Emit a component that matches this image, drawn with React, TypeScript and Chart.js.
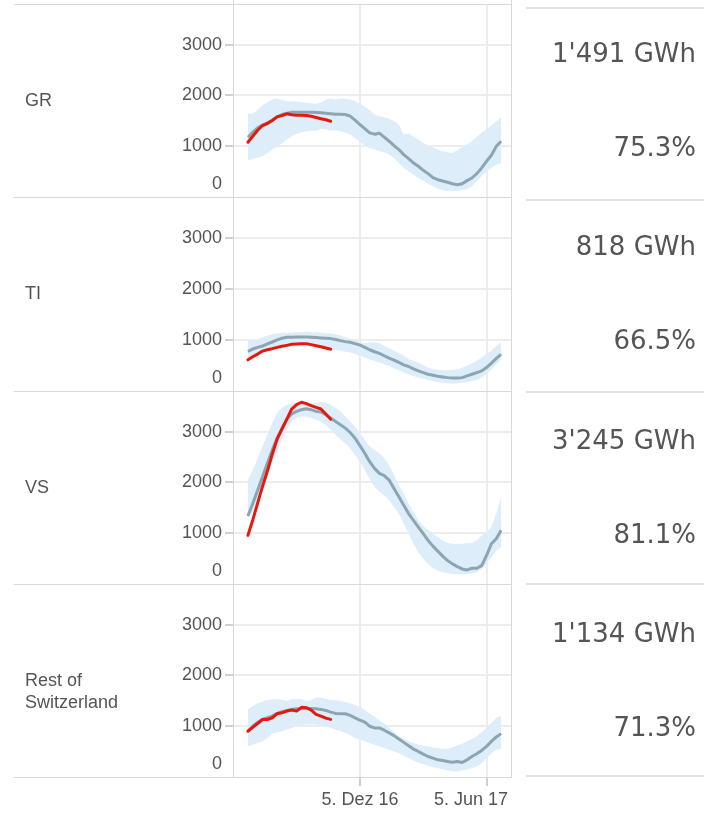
import React, { useEffect, useRef } from 'react';
import { Chart, registerables } from 'chart.js';

Chart.register(...registerables);

// ---------- data ----------
const regionNames = ['GR', 'TI', 'VS', 'Rest of Switzerland'];
const currentValueLabels = ["1'491 GWh", '818 GWh', "3'245 GWh", "1'134 GWh"];
const currentPercentLabels = ['75.3%', '66.5%', '81.1%', '71.3%'];

// weekly points, index 0 = 27 Jun 2016, index 23 = 5 Dec 2016, index 49 = 5 Jun 2017
const xTickWeeks = [23, 49];
const xTickLabels = ['5. Dez 16', '5. Jun 17'];
const yTickValues = [0, 1000, 2000, 3000];

const grMedian = [1177, 1276, 1361, 1414, 1460, 1512, 1578, 1624, 1650, 1670, 1670, 1670, 1670, 1670, 1664, 1657, 1650, 1640, 1631, 1628, 1624, 1591, 1512, 1427, 1348, 1263, 1237, 1257, 1177, 1098, 1013, 934, 835, 756, 670, 605, 526, 460, 381, 341, 315, 289, 262, 243, 262, 322, 374, 460, 572, 703, 822, 999, 1098];
const grMax = [1643, 1638, 1723, 1802, 1868, 1920, 1940, 1907, 1888, 1881, 1881, 1868, 1855, 1842, 1835, 1855, 1920, 1940, 1920, 1933, 1933, 1920, 1888, 1835, 1776, 1710, 1625, 1591, 1572, 1539, 1493, 1427, 1230, 1250, 1197, 1131, 1065, 1019, 980, 934, 901, 881, 868, 920, 986, 1032, 1098, 1184, 1263, 1328, 1414, 1493, 1572];
const grMin = [717, 749, 776, 802, 868, 934, 999, 1052, 1131, 1197, 1243, 1276, 1296, 1302, 1302, 1342, 1330, 1310, 1315, 1296, 1263, 1230, 1164, 1098, 1013, 967, 934, 901, 881, 835, 769, 670, 572, 506, 440, 374, 322, 262, 210, 164, 131, 118, 111, 118, 131, 157, 210, 309, 407, 506, 572, 637, 670];
const grCurrent = [1078, 1197, 1315, 1407, 1447, 1506, 1578, 1605, 1638, 1618, 1611, 1611, 1605, 1590, 1565, 1540, 1520, 1491];

const tiMedian = [776, 822, 855, 881, 921, 960, 1000, 1033, 1053, 1053, 1059, 1059, 1059, 1053, 1046, 1040, 1033, 1026, 1007, 987, 967, 954, 927, 901, 855, 808, 769, 736, 690, 644, 605, 559, 512, 480, 433, 394, 361, 328, 308, 288, 275, 262, 255, 255, 262, 295, 328, 361, 394, 460, 545, 638, 717];
const tiMax = [987, 1000, 1020, 1053, 1086, 1106, 1126, 1139, 1139, 1139, 1152, 1152, 1165, 1152, 1152, 1139, 1133, 1126, 1112, 1086, 1053, 1020, 987, 967, 934, 954, 954, 934, 888, 835, 789, 743, 690, 624, 591, 559, 506, 460, 427, 414, 407, 407, 414, 427, 453, 493, 539, 591, 657, 723, 789, 888, 954];
const tiMin = [657, 690, 736, 769, 808, 835, 868, 901, 921, 921, 921, 914, 901, 888, 875, 855, 835, 822, 802, 789, 769, 756, 723, 690, 657, 624, 591, 559, 526, 493, 446, 407, 361, 328, 295, 262, 242, 215, 196, 177, 163, 150, 144, 150, 163, 177, 190, 215, 262, 328, 427, 526, 624];
const tiCurrent = [611, 670, 723, 782, 808, 829, 855, 875, 894, 914, 921, 927, 927, 908, 888, 868, 842, 818];

const vsMedian = [1340, 1584, 1848, 2112, 2376, 2640, 2871, 3069, 3248, 3347, 3399, 3432, 3452, 3432, 3399, 3386, 3333, 3267, 3201, 3135, 3069, 2983, 2871, 2726, 2574, 2409, 2277, 2178, 2132, 2046, 1881, 1716, 1551, 1386, 1254, 1122, 990, 858, 746, 647, 548, 462, 396, 343, 297, 277, 310, 310, 363, 561, 792, 891, 1056];
const vsMax = [2046, 2244, 2475, 2706, 2937, 3168, 3366, 3465, 3531, 3551, 3564, 3564, 3578, 3564, 3564, 3578, 3578, 3531, 3465, 3399, 3300, 3201, 3102, 2970, 2838, 2706, 2640, 2574, 2475, 2343, 2145, 1947, 1782, 1584, 1419, 1254, 1142, 1069, 990, 924, 858, 812, 792, 792, 792, 805, 805, 858, 957, 1023, 1122, 1386, 1716];
const vsMin = [1300, 1419, 1650, 1914, 2145, 2376, 2607, 2838, 3036, 3201, 3267, 3300, 3300, 3267, 3234, 3201, 3135, 3036, 2937, 2851, 2772, 2673, 2541, 2409, 2244, 2079, 1914, 1815, 1749, 1650, 1518, 1386, 1188, 990, 792, 627, 495, 396, 317, 264, 231, 211, 198, 198, 198, 198, 211, 231, 297, 409, 528, 660, 726];
const vsCurrent = [957, 1261, 1591, 1921, 2224, 2554, 2851, 3050, 3248, 3445, 3531, 3578, 3551, 3512, 3478, 3445, 3346, 3245];

const restMedian = [901, 1000, 1079, 1132, 1166, 1199, 1252, 1285, 1311, 1331, 1344, 1344, 1351, 1351, 1344, 1331, 1311, 1278, 1252, 1245, 1245, 1212, 1166, 1119, 1079, 1000, 967, 967, 921, 868, 815, 748, 682, 616, 550, 503, 450, 404, 371, 338, 325, 305, 291, 305, 285, 338, 404, 457, 523, 603, 702, 788, 854];
const restMax = [1331, 1397, 1450, 1483, 1517, 1530, 1530, 1517, 1497, 1530, 1543, 1530, 1497, 1517, 1563, 1563, 1543, 1517, 1517, 1497, 1477, 1450, 1417, 1384, 1318, 1252, 1185, 1119, 1053, 967, 881, 801, 748, 702, 669, 636, 616, 603, 583, 570, 556, 556, 583, 623, 656, 702, 748, 801, 881, 967, 1066, 1166, 1212];
const restMin = [603, 636, 669, 702, 768, 854, 881, 901, 934, 967, 1000, 1020, 1033, 1033, 1033, 1013, 1000, 967, 934, 901, 868, 821, 768, 735, 702, 669, 636, 603, 570, 536, 503, 470, 417, 371, 325, 285, 252, 219, 192, 172, 152, 126, 106, 106, 126, 152, 172, 205, 272, 371, 470, 536, 550];
const restCurrent = [901, 980, 1053, 1132, 1132, 1166, 1245, 1265, 1298, 1318, 1298, 1371, 1364, 1318, 1232, 1199, 1159, 1134];

const panelSeries = [
  { median: grMedian, max: grMax, min: grMin, current: grCurrent },
  { median: tiMedian, max: tiMax, min: tiMin, current: tiCurrent },
  { median: vsMedian, max: vsMax, min: vsMin, current: vsCurrent },
  { median: restMedian, max: restMax, min: restMin, current: restCurrent },
];

// ---------- layout / style ----------
const CANVAS_W = 706;
const PLOT_LEFT = 233;
const PLOT_RIGHT = 512;
const ROW_TOPS = [4, 197, 391, 584];
const ROW_HEIGHTS = [193, 194, 193, 193];
const X_AXIS_H = 38;
const X_MIN = -3.06;
const X_MAX = 54.23;
const Y_MAX = 3800;

const RED = '#e5180d';
const GRAY = '#8ba5b2';
const BAND = '#ddedfa';
const GRID = '#ededed';
const TICK = '#cfcfcf';
const LINE = '#d9d9d9';
const TEXT = '#555555';
const SANS = '"Liberation Sans", Arial, Helvetica, sans-serif';

const panelTextPlugin = {
  id: 'panelText',
  afterDraw(chart: any, _args: any, opts: any) {
    const ctx = chart.ctx;
    const y = chart.scales.y;
    ctx.save();
    ctx.font = `18px ${SANS}`;
    ctx.fillStyle = TEXT;
    ctx.textAlign = 'right';
    ctx.textBaseline = 'middle';
    // "0" label kept inside its panel
    ctx.fillText(String(yTickValues[0]), y.right - 8 - 3, y.getPixelForValue(yTickValues[0]) - 12.5);
    if (opts && opts.showX) {
      const x = chart.scales.x;
      const area = chart.chartArea;
      ctx.textBaseline = 'middle';
      xTickWeeks.forEach((w, i) => {
        const label = xTickLabels[i];
        const px = x.getPixelForValue(w);
        const wdt = ctx.measureText(label).width;
        let left = px - wdt / 2;
        if (left + wdt > area.right - 4) left = area.right - 4 - wdt;
        ctx.textAlign = 'left';
        ctx.fillText(label, left, area.bottom + 23);
      });
    }
    ctx.restore();
  },
};

function Panel({ index }: { index: number }) {
  const ref = useRef<HTMLCanvasElement | null>(null);
  const isLast = index === panelSeries.length - 1;
  const h = ROW_HEIGHTS[index] + (isLast ? X_AXIS_H : 0);

  useEffect(() => {
    const s = panelSeries[index];
    const pts = (arr: number[]) => arr.map((v, i) => ({ x: i, y: v }));
    const chart = new Chart(ref.current as HTMLCanvasElement, {
      type: 'line',
      data: {
        datasets: [
          { label: 'current', data: pts(s.current), borderColor: RED, borderWidth: 3, pointRadius: 0, fill: false, tension: 0, borderJoinStyle: 'round', borderCapStyle: 'round' },
          { label: 'median', data: pts(s.median), borderColor: GRAY, borderWidth: 3, pointRadius: 0, fill: false, tension: 0, borderJoinStyle: 'round' },
          { label: 'max', data: pts(s.max), borderColor: 'rgba(0,0,0,0)', borderWidth: 0, backgroundColor: BAND, pointRadius: 0, fill: '+1', tension: 0 },
          { label: 'min', data: pts(s.min), borderColor: 'rgba(0,0,0,0)', borderWidth: 0, pointRadius: 0, fill: false, tension: 0 },
        ],
      } as any,
      options: {
        responsive: false,
        animation: false,
        events: [],
        layout: { padding: { left: 0, right: CANVAS_W - PLOT_RIGHT, top: 0, bottom: 0 } },
        plugins: {
          legend: { display: false },
          tooltip: { enabled: false },
          panelText: { showX: isLast },
        } as any,
        scales: {
          x: {
            type: 'linear',
            min: X_MIN,
            max: X_MAX,
            afterBuildTicks: (sc: any) => { sc.ticks = xTickWeeks.map((v) => ({ value: v })); },
            afterFit: (sc: any) => {
              sc.height = isLast ? X_AXIS_H : 0;
              sc.paddingLeft = 0; sc.paddingRight = 0; sc.paddingTop = 0; sc.paddingBottom = 0;
            },
            ticks: { display: false },
            grid: { color: GRID, lineWidth: 2, drawTicks: isLast, tickLength: 9, tickColor: TICK },
            border: { display: false },
          },
          y: {
            min: 0,
            max: Y_MAX,
            afterBuildTicks: (sc: any) => { sc.ticks = yTickValues.map((v) => ({ value: v })); },
            afterFit: (sc: any) => {
              sc.width = PLOT_LEFT;
              sc.paddingTop = 0; sc.paddingBottom = 0; sc.paddingLeft = 0; sc.paddingRight = 0;
            },
            ticks: {
              font: { family: SANS, size: 18 },
              color: TEXT,
              padding: 3,
              callback: (v: any) => (v === 0 ? '' : String(v)),
            },
            grid: {
              color: (c: any) => (c.tick && c.tick.value === 0 ? 'rgba(0,0,0,0)' : GRID),
              tickColor: (c: any) => (c.tick && c.tick.value === 0 ? 'rgba(0,0,0,0)' : TICK),
              lineWidth: 2,
              drawTicks: true,
              tickLength: 8,
            },
            border: { display: false },
          },
        },
      } as any,
      plugins: [panelTextPlugin],
    });
    return () => chart.destroy();
  }, [index]);

  return (
    <canvas
      ref={ref}
      width={CANVAS_W}
      height={h}
      style={{ position: 'absolute', left: 0, top: ROW_TOPS[index], width: CANVAS_W, height: h, display: 'block' }}
    />
  );
}

const hLine = (top: number, left: number, width: number, color: string, thick = 1) => (
  <div key={`h${top}-${left}`} style={{ position: 'absolute', top, left, width, height: thick, background: color }} />
);
const vLine = (left: number, top: number, height: number, color: string) => (
  <div key={`v${left}`} style={{ position: 'absolute', top, left, width: 1, height, background: color }} />
);

export default function App() {
  const rowBounds = [...ROW_TOPS, ROW_TOPS[3] + ROW_HEIGHTS[3]];
  const rightLines = [7, 199, 391, 583, 775];
  return (
    <div style={{ position: 'absolute', left: 0, top: 0, width: CANVAS_W, height: 815, background: '#fff', overflow: 'hidden' }}>
      {regionNames.map((_, i) => <Panel key={i} index={i} />)}
      {rowBounds.map((y) => hLine(y, 14, PLOT_RIGHT - 14, LINE))}
      {vLine(PLOT_LEFT, 0, 778, LINE)}
      {vLine(PLOT_RIGHT - 1, 0, 778, LINE)}
      {rightLines.map((y) => hLine(y, 526, 178, '#e2e2e2', 2))}
      {regionNames.map((name, i) => (
        <div
          key={`n${i}`}
          style={{ position: 'absolute', left: 25, top: ROW_TOPS[i] + 84.5, width: 120, font: `18px ${SANS}`, lineHeight: '22px', color: TEXT }}
        >
          {name}
        </div>
      ))}
      {currentValueLabels.map((t, i) => (
        <div
          key={`v${i}`}
          style={{ position: 'absolute', right: CANVAS_W - 696, top: ROW_TOPS[i] + 34, font: '26px "DejaVu Sans", sans-serif', lineHeight: '30px', color: TEXT, whiteSpace: 'nowrap', textAlign: 'right' }}
        >
          {t}
        </div>
      ))}
      {currentPercentLabels.map((t, i) => (
        <div
          key={`p${i}`}
          style={{ position: 'absolute', right: CANVAS_W - 696, top: ROW_TOPS[i] + 128, font: '26px "DejaVu Sans", sans-serif', lineHeight: '30px', color: TEXT, whiteSpace: 'nowrap', textAlign: 'right' }}
        >
          {t}
        </div>
      ))}
    </div>
  );
}
